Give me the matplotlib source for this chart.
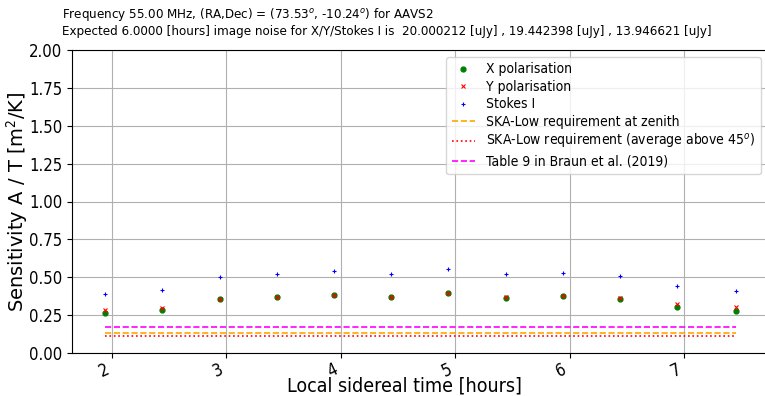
import matplotlib
matplotlib.use('Agg')
import matplotlib.pyplot as plt

# LST of each measurement [hours]
lst_hours = [1.94, 2.44, 2.94, 3.44, 3.94, 4.44, 4.94, 5.44, 5.94, 6.44, 6.94, 7.45]

# sensitivity A/T [m^2/K]
sens_x = [0.264, 0.286, 0.354, 0.370, 0.381, 0.367, 0.394, 0.366, 0.374, 0.358, 0.306, 0.279]
sens_y = [0.286, 0.300, 0.356, 0.371, 0.383, 0.369, 0.396, 0.367, 0.375, 0.360, 0.321, 0.304]
sens_i = [0.387, 0.416, 0.504, 0.521, 0.539, 0.519, 0.554, 0.519, 0.528, 0.510, 0.444, 0.411]

# reference levels
ska_zenith = 0.134
ska_avg45 = 0.110
braun_2019 = 0.174

title_lines = ["Frequency 55.00 MHz, (RA,Dec) = (73.53$^o$, -10.24$^o$) for AAVS2",
               "Expected 6.0000 [hours] image noise for X/Y/Stokes I is  20.000212 [uJy] , 19.442398 [uJy] , 13.946621 [uJy]"]


def main():
    plt.rcParams['font.family'] = 'DejaVu Sans'
    plt.rcParams['font.stretch'] = 'condensed'

    fig = plt.figure(figsize=(7.65, 3.96), dpi=100)
    # right edge sits just past the figure border, like the cropped original
    ax = fig.add_axes([72 / 765, 43 / 396, 696 / 765, 303 / 396])

    ax.plot(lst_hours, sens_x, 'go', markersize=3.5, label='X polarisation')
    ax.plot(lst_hours, sens_y, 'rx', markersize=3.5, markeredgewidth=0.8, label='Y polarisation')
    ax.plot(lst_hours, sens_i, 'b+', markersize=3.5, markeredgewidth=0.8, label='Stokes I')

    x0, x1 = min(lst_hours), max(lst_hours)
    ax.plot([x0, x1], [ska_zenith, ska_zenith], '--', color='orange', linewidth=1.2,
            label='SKA-Low requirement at zenith')
    ax.plot([x0, x1], [ska_avg45, ska_avg45], ':', color='red', linewidth=1.2,
            label='SKA-Low requirement (average above 45$^o$)')
    ax.plot([x0, x1], [braun_2019, braun_2019], '--', color='magenta', linewidth=1.2,
            label='Table 9 in Braun et al. (2019)')

    ax.set_xlim(1.65, 7.734)
    ax.set_ylim(0, 2.0)
    ax.set_yticks([0, 0.25, 0.5, 0.75, 1.0, 1.25, 1.5, 1.75, 2.0])
    ax.grid(True)
    ax.tick_params(axis='both', labelsize=12)
    ax.tick_params(axis='x', pad=2)
    plt.setp(ax.get_xticklabels(), rotation=25, ha='right')

    ax.set_xlabel('Local sidereal time [hours]', fontsize=14)
    ax.xaxis.set_label_coords(0.478, -0.079)
    ax.set_ylabel('Sensitivity A / T [m$^2$/K]', fontsize=14, fontstretch='normal')
    ax.yaxis.set_label_coords(-0.060, 0.5)
    ax.legend(loc='upper right', fontsize=10, labelspacing=0.25, handlelength=1.7)

    fig.text(62 / 765, 1 - 18 / 396, title_lines[0], ha='left', va='baseline', fontsize=9.5)
    fig.text(62 / 765, 1 - 34.5 / 396, title_lines[1], ha='left', va='baseline', fontsize=9.5)

    fig.savefig('out.png', dpi=100)


if __name__ == '__main__':
    main()
